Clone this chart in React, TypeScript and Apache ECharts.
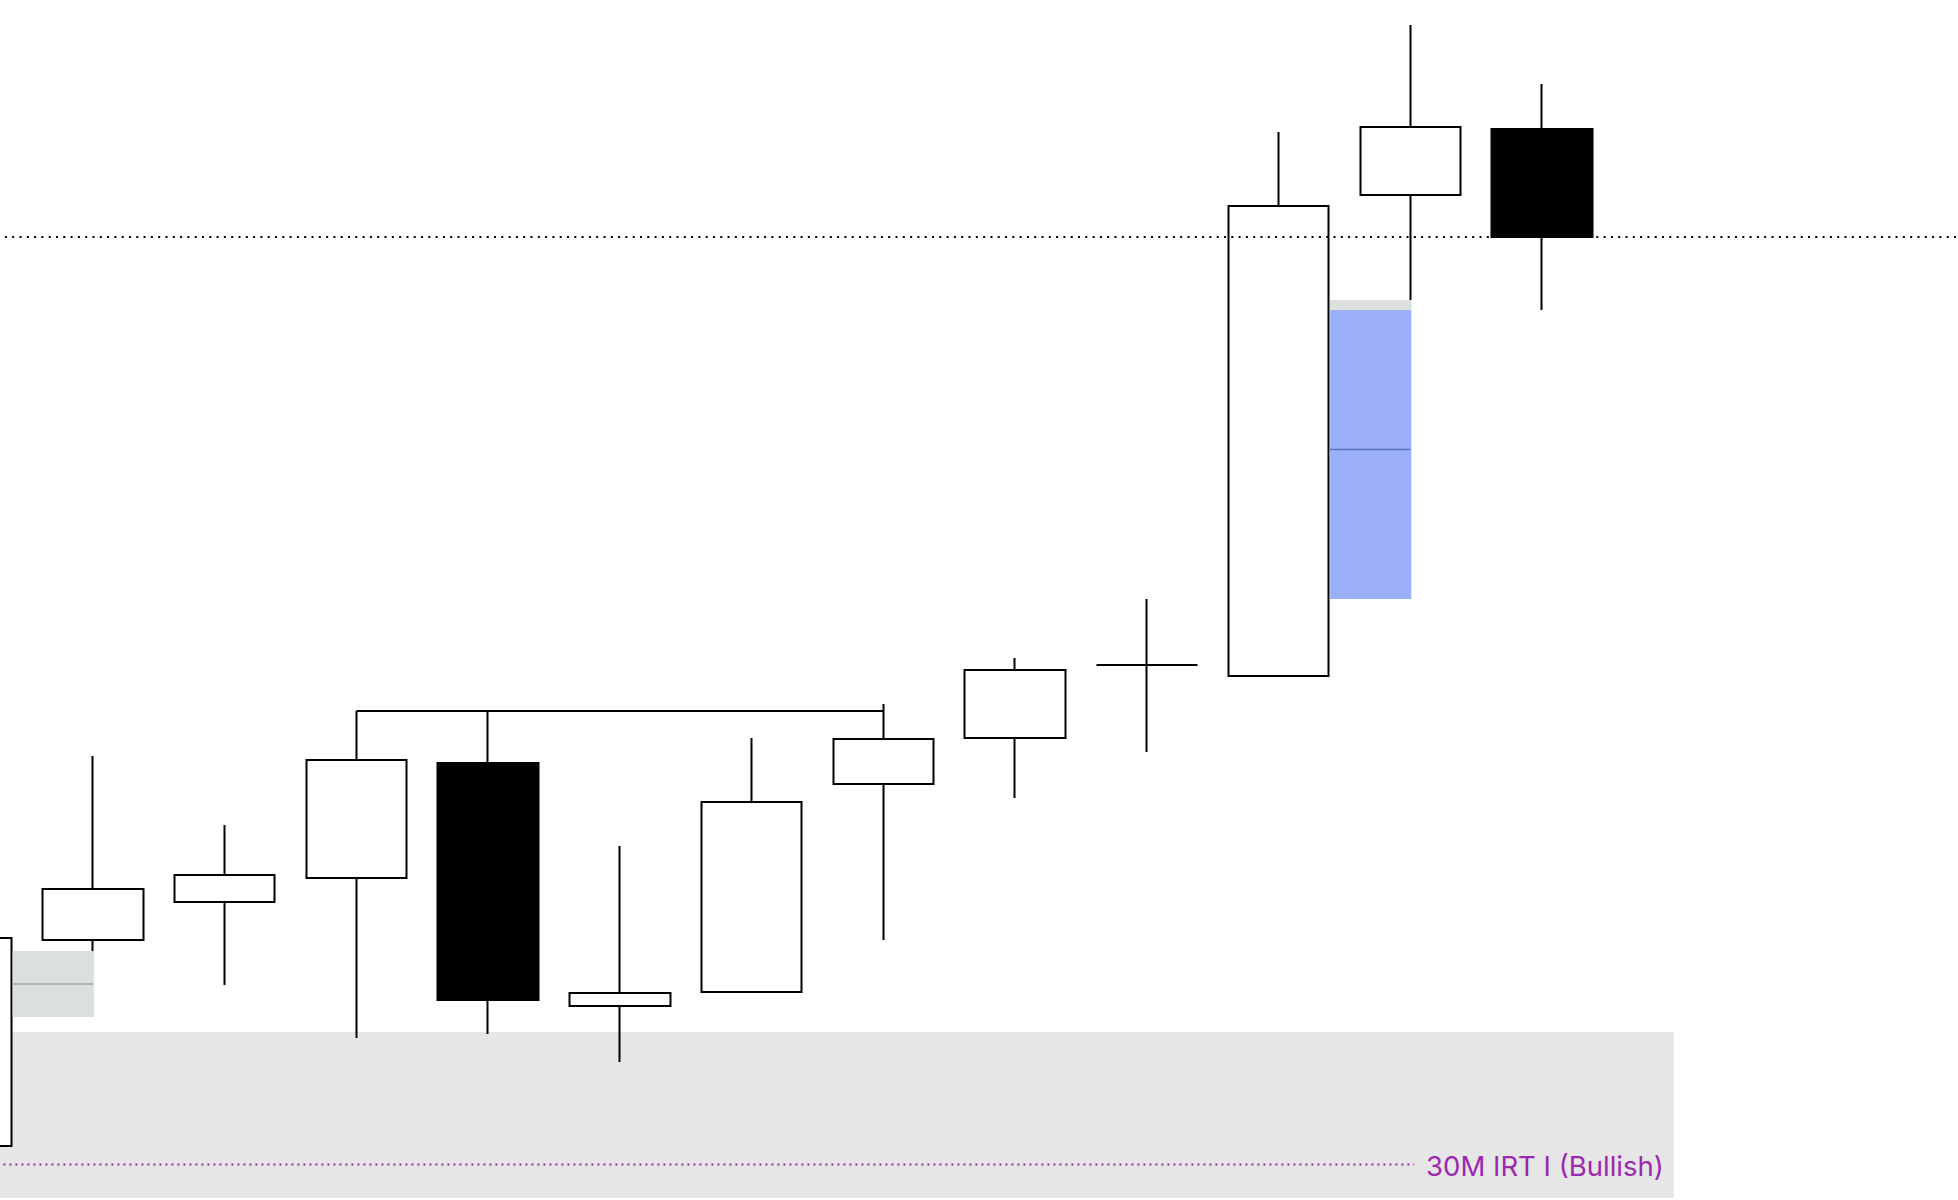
import React, { useEffect, useRef } from "react";
import * as echarts from "echarts";

// ---- data (price units; 1 unit = 10 px on the 1200 px tall plot) ----
const times = [
  "09:00", "09:05", "09:10", "09:15", "09:20", "09:25", "09:30", "09:35",
  "09:40", "09:45", "09:50", "09:55", "10:00", "10:05", "10:10", "10:15",
];
const opens = [5.4, 26.0, 29.8, 32.2, 43.7, 19.4, 20.8, 41.6, 46.2, 53.5, 52.4, 100.5, 107.1];
const closes = [26.2, 31.1, 32.5, 44.0, 20.0, 20.7, 39.8, 46.1, 53.0, 53.5, 99.4, 107.3, 96.3];
const lows = [3.0, 24.9, 21.5, 16.2, 16.6, 13.8, 20.8, 26.0, 40.2, 44.8, 52.4, 90.0, 89.0];
const highs = [28.0, 44.4, 37.5, 48.9, 48.9, 35.4, 46.2, 49.6, 54.2, 60.1, 106.8, 117.5, 111.6];

// swing high that got taken out
const swingFromIdx = 3;
const swingToIdx = 7;
const swingLevel = 48.9;

// last price line
const lastPrice = 96.3;

// fair value gaps
const fvgFrom = [0, 10];
const fvgTo = [1, 11];
const fvgTop = [24.9, 90.0];
const fvgBottom = [18.3, 60.1];
const fvgFilledTo = [18.3, 89.0];

// 30M IRT zone
const irtFrom = [0];
const irtTo = [13];
const irtTop = [16.8];
const irtBottom = [0.2];
const irtLevel = [3.55];
const irtLabel = ["30M IRT I (Bullish)"];

const BODY_W = 101;
const BORDER = 2;

export default function App() {
  const ref = useRef<HTMLDivElement>(null);
  useEffect(() => {
    if (!ref.current) return;
    const chart = echarts.init(ref.current, undefined, { renderer: "svg" });
    const candleData = opens.map((o, i) => [o, closes[i], lows[i], highs[i]]);
    const fvgData = fvgFrom.map((f, i) => [f, fvgTo[i], fvgTop[i], fvgBottom[i], fvgFilledTo[i]]);
    const irtData = irtFrom.map((f, i) => [f, irtTo[i], irtTop[i], irtBottom[i], irtLevel[i]]);

    const option: any = {
      animation: false,
      backgroundColor: "#ffffff",
      grid: {
        left: -104.6,
        right: -45.1,
        top: 0,
        bottom: 0,
        containLabel: false,
        outerBoundsMode: "none",
      },
      xAxis: { type: "category", data: times, boundaryGap: true, show: false },
      yAxis: { type: "value", min: 0, max: 120, show: false },
      series: [
        {
          type: "custom",
          name: "IRT",
          z: 1,
          encode: { x: [0, 1], y: [2, 3, 4] },
          data: irtData,
          renderItem: (params: any, api: any) => {
            const i0 = api.value(0);
            const i1 = api.value(1);
            const top = api.value(2);
            const bottom = api.value(3);
            const level = api.value(4);
            const band = api.size([1, 0])[0];
            const [c0, yTop] = api.coord([i0, top]);
            const xL = c0 - band / 2;
            const xR = api.coord([i1, top])[0];
            const yBot = api.coord([i0, bottom])[1];
            const yLev = api.coord([i0, level])[1];
            return {
              type: "group",
              children: [
                {
                  type: "rect",
                  shape: { x: xL, y: yTop, width: xR - xL, height: yBot - yTop },
                  style: { fill: "#e6e6e6" },
                },
                {
                  type: "line",
                  shape: { x1: xL, y1: yLev, x2: xR - 10, y2: yLev },
                  style: { stroke: "#9c27b0", lineWidth: 2, lineDash: [2, 4] },
                },
                {
                  type: "text",
                  x: xR - 10,
                  y: yLev + 1,
                  style: {
                    text: irtLabel[params.dataIndex],
                    fill: "#9c27b0",
                    font: "27.5px Inter",
                    align: "right",
                    verticalAlign: "middle",
                    backgroundColor: "#e6e6e6",
                    padding: [0, 0, 0, 12],
                  },
                },
              ],
            };
          },
        },
        {
          type: "candlestick",
          name: "Price",
          z: 2,
          barWidth: BODY_W,
          data: candleData,
          itemStyle: {
            color: "#ffffff",
            color0: "#000000",
            borderColor: "#000000",
            borderColor0: "#000000",
            borderWidth: BORDER,
          },
          markLine: {
            silent: true,
            symbol: ["none", "none"],
            label: { show: false },
            data: [
              {
                yAxis: lastPrice,
                lineStyle: { color: "#000000", type: [2, 5.3], width: 2 },
              },
              [
                {
                  coord: [times[swingFromIdx], swingLevel],
                  lineStyle: { color: "#000000", type: "solid", width: 2 },
                },
                { coord: [times[swingToIdx], swingLevel] },
              ],
            ],
          },
        },
        {
          type: "custom",
          name: "FVG",
          z: 3,
          encode: { x: [0, 1], y: [2, 3, 4] },
          data: fvgData,
          renderItem: (params: any, api: any) => {
            const i0 = api.value(0);
            const i1 = api.value(1);
            const top = api.value(2);
            const bottom = api.value(3);
            const filled = api.value(4);
            const [c0, yTop] = api.coord([i0, top]);
            const xL = c0 + BODY_W / 2 + BORDER / 2;
            const xR = api.coord([i1, top])[0] + 1;
            const yFill = api.coord([i0, filled])[1];
            const yBot = api.coord([i0, bottom])[1];
            const yMid = api.coord([i0, (top + bottom) / 2])[1];
            const allFilled = filled <= bottom;
            const children: any[] = [
              {
                type: "rect",
                shape: { x: xL, y: yTop, width: xR - xL, height: yFill - yTop },
                style: { fill: "#dbe0dc" },
              },
            ];
            if (!allFilled) {
              children.push({
                type: "rect",
                shape: { x: xL, y: yFill, width: xR - xL, height: yBot - yFill },
                style: { fill: "#9bb0f8" },
              });
            }
            children.push({
              type: "line",
              shape: { x1: xL, y1: yMid, x2: xR - 1, y2: yMid },
              style: { stroke: allFilled ? "#a0a5a1" : "#5d72c4", lineWidth: 1.5 },
            });
            return { type: "group", children };
          },
        },
      ],
    };
    chart.setOption(option);
    return () => chart.dispose();
  }, []);
  return (
    <div
      ref={ref}
      style={{ position: "fixed", left: 0, top: 0, width: 1958, height: 1200, background: "#fff" }}
    />
  );
}
